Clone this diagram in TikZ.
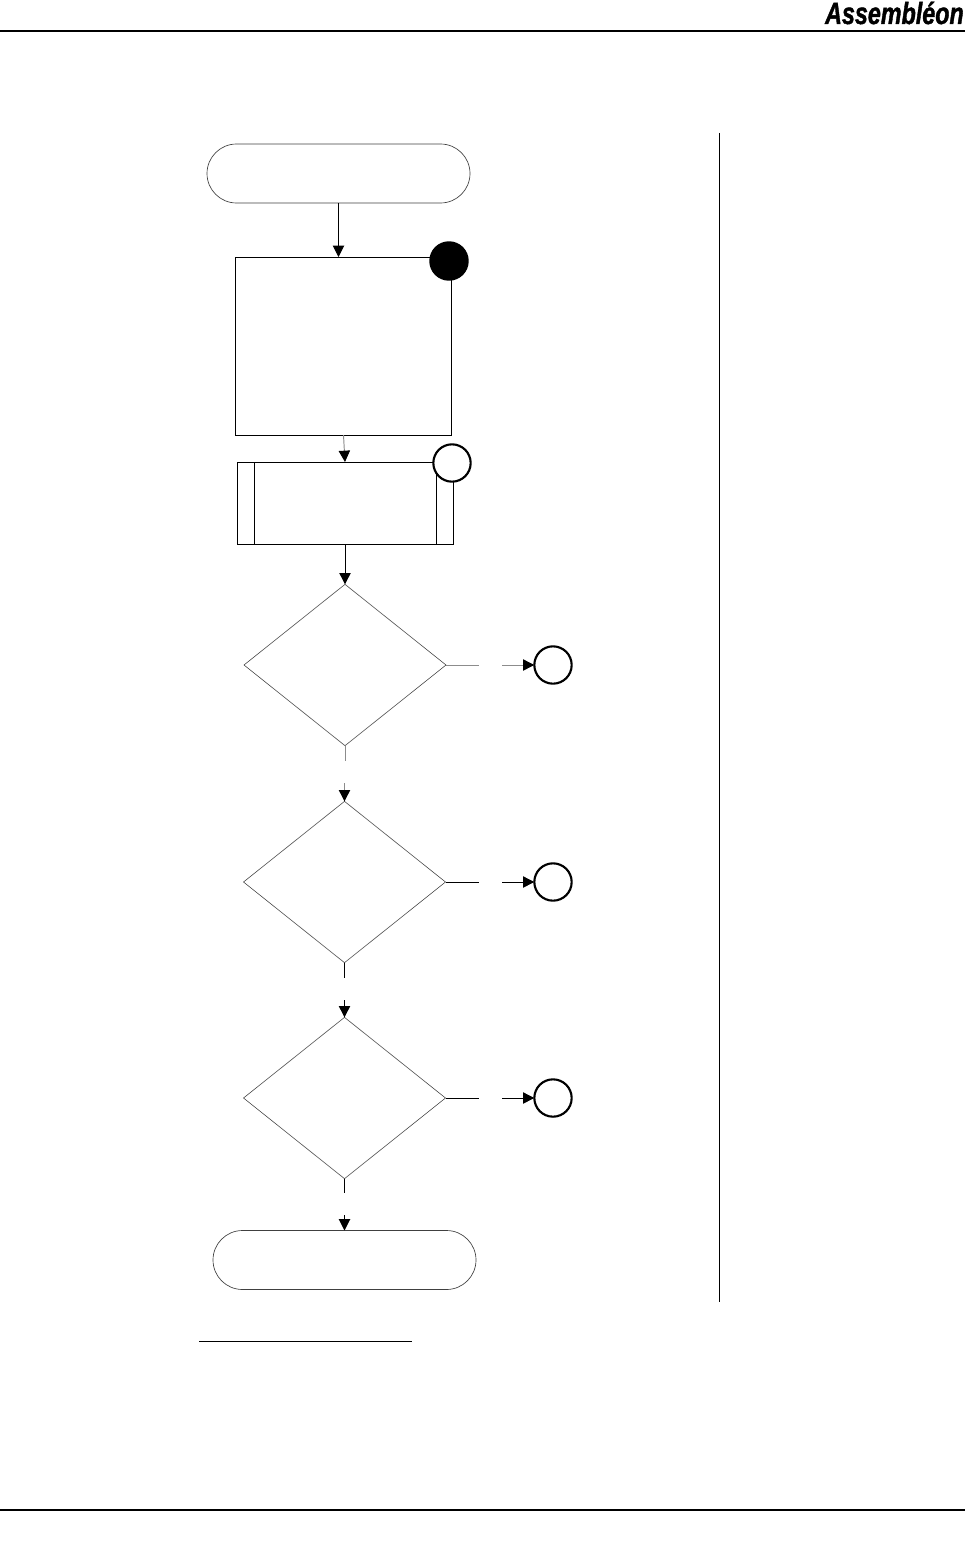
\documentclass[tikz,border=0pt]{standalone}
\usepackage{fontspec}
\usepackage{graphicx}
\usetikzlibrary{arrows.meta,shapes.geometric,shapes.misc}
\newfontfamily\logofont[FakeBold=1.5]{Liberation Sans Bold Italic}
\tikzset{
  box/.style={draw=black,line width=0.74pt,fill=white,rectangle,inner sep=0pt,outer sep=0pt},
  term/.style={draw=black!75,line width=0.5pt,fill=white,rounded rectangle,inner sep=0pt,outer sep=0pt,minimum width=197.25pt,minimum height=44.25pt},
  decis/.style={draw=black!70,line width=0.45pt,diamond,aspect=1.25,inner sep=0pt,outer sep=0pt,minimum width=151.5pt,minimum height=121pt},
  ringmark/.style={draw=black,line width=1.6pt,fill=white,circle,inner sep=0pt,outer sep=0pt,minimum size=28pt},
  solidmark/.style={ringmark,fill=black},
  conn/.style={draw=black,line width=0.72pt},
  arr/.style={conn,-{Triangle[length=8.5pt,width=8.5pt]}},
  pale/.style={draw=black!45,line width=0.72pt},
  palearr/.style={pale,-{Triangle[length=8.5pt,width=8.5pt,color=black]}},
  rulel/.style={draw=black,line width=1.4pt}
}
\begin{document}
\begin{tikzpicture}[x=0.75pt,y=-0.75pt]
\useasboundingbox (0,0) rectangle (965,1566);
% page furniture
\coordinate (hl) at (0,31); \coordinate (hr) at (965,31);
\coordinate (fl) at (0,1510); \coordinate (fr) at (965,1510);
\coordinate (vt) at (719,133); \coordinate (vb) at (719,1302);
\coordinate (nl) at (199,1341); \coordinate (nr) at (412,1341);
\draw[rulel] (hl) -- (hr);
\draw[rulel] (fl) -- (fr);
\draw[conn] (vt) -- (vb);
\draw[conn] (nl) -- (nr);
\node[anchor=base east,inner sep=0pt] (logo) at (964,24) {\scalebox{0.76}[1]{\logofont\fontsize{23}{23}\selectfont Assembl\'eon}};
% shapes
\node[term] (start) at (338.5,173.5) {};
\node[box,minimum width=162pt,minimum height=133.5pt] (proc) at (343,346) {};
\node[box,minimum width=162pt,minimum height=61.5pt] (sub) at (345,503) {};
\draw[conn] (254,462) -- (254,544);
\draw[conn] (436,462) -- (436,544);
\node[solidmark] (m1) at (449,261) {};
\node[ringmark] (m2) at (452,463) {};
\node[decis] (d1) at (345,665) {};
\node[decis] (d2) at (344.5,882) {};
\node[decis] (d3) at (344.5,1098) {};
\node[ringmark] (c1) at (553,665) {};
\node[ringmark] (c2) at (553,882) {};
\node[ringmark] (c3) at (553,1098) {};
\node[term] (end) at (344.5,1260) {};
% connector ends off-centre or at gaps
\coordinate (s1) at (338.5,257); \coordinate (p1) at (343.5,435);
\coordinate (a1) at (479,665); \coordinate (a2) at (502,665);
\coordinate (b1) at (345,761); \coordinate (b2) at (344.5,783);
\coordinate (e1) at (479,882); \coordinate (e2) at (502,882);
\coordinate (f1) at (344.5,978); \coordinate (f2) at (344.5,1000);
\coordinate (g1) at (479,1098); \coordinate (g2) at (502,1098);
\coordinate (h1) at (344.5,1193); \coordinate (h2) at (344.5,1215);
% connectors
\draw[arr] (start.south) -- (s1);
\draw[palearr] (p1) -- (sub.north);
\draw[arr] (sub.south) -- (d1.north);
\draw[pale] (d1.east) -- (a1);
\draw[palearr] (a2) -- (c1.west);
\draw[pale] (d1.south) -- (b1);
\draw[palearr] (b2) -- (d2.north);
\draw[conn] (d2.east) -- (e1);
\draw[arr] (e2) -- (c2.west);
\draw[conn] (d2.south) -- (f1);
\draw[arr] (f2) -- (d3.north);
\draw[conn] (d3.east) -- (g1);
\draw[arr] (g2) -- (c3.west);
\draw[conn] (d3.south) -- (h1);
\draw[arr] (h2) -- (end.north);
\end{tikzpicture}
\end{document}
